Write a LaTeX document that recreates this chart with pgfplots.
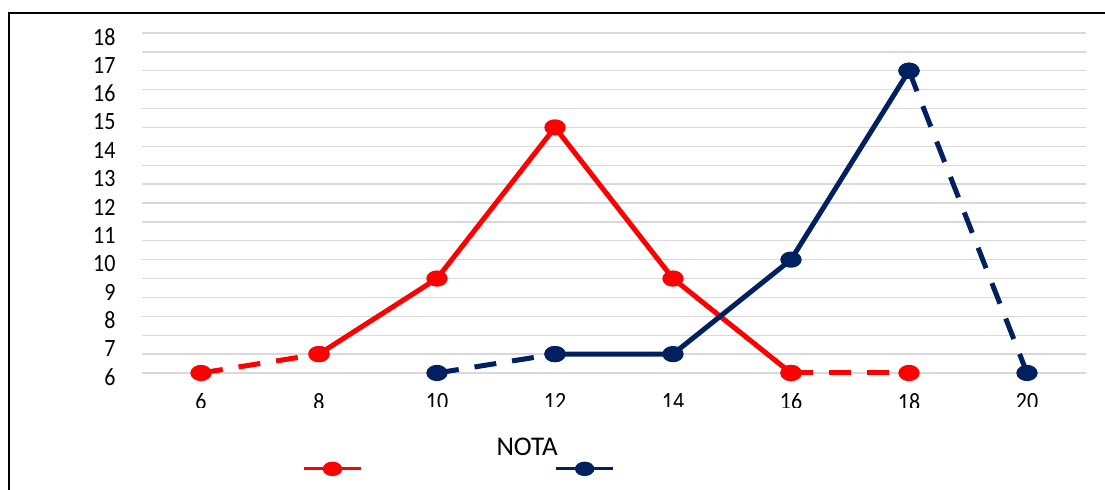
\documentclass[border=0pt]{standalone}
\usepackage{pgfplots}
\pgfplotsset{compat=1.18}
\usepackage{graphicx}
\usepackage{fontspec}
\setmainfont{Carlito}
\usepackage{trimclip}
\definecolor{navy}{RGB}{0,32,96}
\definecolor{gridgray}{RGB}{217,217,217}
\newcommand{\cx}[1]{\clipbox{0pt 1.4pt 0pt 0pt}{\scalebox{1}[1.13]{#1}}}
\newcommand{\sy}[1]{\scalebox{1}[1.13]{#1}}
\begin{document}
\begin{tikzpicture}
\path[use as bounding box] (0,0) rectangle (552.5pt,245pt);
\draw[line width=1pt] (4.5pt,0pt) -- (4.5pt,238.5pt) -- (552.5pt,238.5pt);
\begin{axis}[
  at={(71pt,58.5pt)}, anchor=south west, scale only axis,
  width=472pt, height=170pt,
  xmin=5, xmax=21, ymin=6, ymax=18, clip=false,
  axis line style={draw=none}, major tick length=0pt, minor tick length=0pt,
  xtick={6,8,10,12,14,16,18,20},
  xticklabels={\cx{6},\cx{8},\cx{10},\cx{12},\cx{14},\cx{16},\cx{18},\cx{20}},
  xticklabel style={font=\fontsize{11}{13}\selectfont, yshift=-6.5pt},
  ytick={6,7,8,9,10,11,12,13,14,15,16,17,18},
  yticklabels={\sy{6},\sy{7},\sy{8},\sy{9},\sy{10},\sy{11},\sy{12},\sy{13},\sy{14},\sy{15},\sy{16},\sy{17},\sy{18}},
  yticklabel style={font=\fontsize{11}{13}\selectfont, xshift=-9.7pt, yshift=-2pt},
  extra y ticks={6,6.66667,7.33333,8,8.66667,9.33333,10,10.66667,11.33333,12,12.66667,13.33333,14,14.66667,15.33333,16,16.66667,17.33333,18},
  extra y tick labels={},
  extra y tick style={grid=major, major grid style={draw=gridgray, line width=0.7pt}},
  xlabel={NOTA},
  xlabel style={at={(axis description cs:0.408,-0.2176)}, anchor=center, font=\fontsize{13.5}{15}\selectfont},
  legend columns=2,
  legend style={at={(axis description cs:0.1631,-0.282)}, anchor=west, draw=none, fill=none,
    /tikz/every even column/.append style={column sep=92pt}},
  legend image code/.code={\draw[mark repeat=2,mark phase=2,#1,line width=1.6pt] plot coordinates {(0pt,0pt) (14.25pt,0pt) (28.5pt,0pt)};},
  every axis plot/.append style={line join=round},
]
\addplot[red, line width=2.5pt, dash pattern=on 11pt off 8pt, mark=*, mark size=2.8pt, mark options={xscale=1.45, solid}, forget plot] coordinates {(6,6) (8,6.66667)};
\addplot[red, line width=2.5pt, dash pattern=on 11pt off 8pt, mark=*, mark size=2.8pt, mark options={xscale=1.45, solid}, forget plot] coordinates {(16,6) (18,6)};
\addplot[navy, line width=2.5pt, dash pattern=on 11pt off 8pt, mark=*, mark size=2.8pt, mark options={xscale=1.45, solid}, forget plot] coordinates {(10,6) (12,6.66667)};
\addplot[navy, line width=2.5pt, dash pattern=on 11pt off 8pt, mark=*, mark size=2.8pt, mark options={xscale=1.45, solid}, forget plot] coordinates {(18,16.66667) (20,6)};
\addplot[red, line width=2.5pt, mark=*, mark size=2.8pt, mark options={xscale=1.45, solid}] coordinates {(8,6.66667) (10,9.33333) (12,14.66667) (14,9.33333) (16,6)};
\addlegendentry{}
\addplot[navy, line width=2.5pt, mark=*, mark size=2.8pt, mark options={xscale=1.45, solid}] coordinates {(12,6.66667) (14,6.66667) (16,10) (18,16.66667)};
\addlegendentry{}
\end{axis}
\end{tikzpicture}
\end{document}
